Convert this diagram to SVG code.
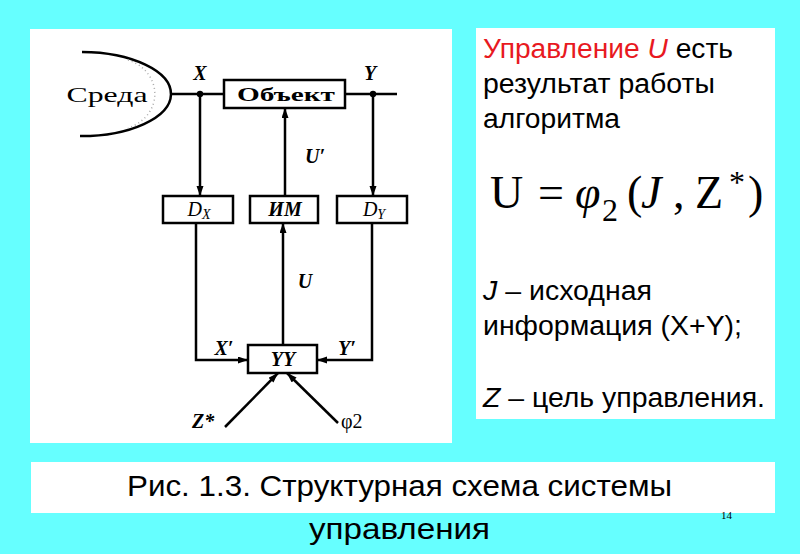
<svg xmlns="http://www.w3.org/2000/svg" width="800" height="554" viewBox="0 0 800 554">
<defs>
<marker id="ah" markerUnits="userSpaceOnUse" markerWidth="11" markerHeight="8" refX="10" refY="3.5" orient="auto">
<path d="M0,0 L10,3.5 L0,7 Z" fill="#000"/>
</marker>
<style>
.box{fill:#fff;stroke:#000;stroke-width:2.5}
.ln{fill:none;stroke:#000;stroke-width:2.5}
.arr{fill:none;stroke:#000;stroke-width:2.5;marker-end:url(#ah)}
.sf{font-family:"Liberation Serif","DejaVu Serif",serif;fill:#000}
.lab{font-family:"Liberation Serif","DejaVu Serif",serif;font-style:italic;font-weight:bold;fill:#000}
.ss{font-family:"Liberation Sans","Noto Sans",sans-serif;fill:#000}
.red{fill:#e8191f}
</style>
</defs>
<rect x="0" y="0" width="800" height="554" fill="#66ffff"/>
<rect x="30" y="29" width="422" height="414" fill="#fff"/>
<rect x="476" y="28" width="299" height="391" fill="#fff"/>
<rect x="31" y="462" width="744" height="51" fill="#fff"/>

<g id="connectors">
<path class="ln" d="M172 94 H224"/>
<path class="ln" d="M345 94 H397"/>
<circle cx="200" cy="94" r="3.2" fill="#000"/>
<circle cx="373" cy="94" r="3.2" fill="#000"/>
<path class="arr" d="M200 94 V196"/>
<path class="arr" d="M373 94 V196"/>
<path class="arr" d="M285 196 V108"/>
<path class="arr" d="M283 345 V223"/>
<path class="arr" d="M196 223 V360 H248"/>
<path class="arr" d="M372 223 V360 H317"/>
<path class="arr" d="M225 427 L278 373"/>
<path class="arr" d="M338 423 L287 373"/>
<text class="lab" x="200" y="80" font-size="20" text-anchor="middle">X</text>
<text class="lab" x="370" y="80" font-size="20" text-anchor="middle">Y</text>
<text class="lab" x="315" y="163" font-size="20" text-anchor="middle">U′</text>
<text class="lab" x="305" y="288" font-size="20" text-anchor="middle">U</text>
<text class="lab" x="224" y="355" font-size="20" text-anchor="middle">X′</text>
<text class="lab" x="347" y="355" font-size="20" text-anchor="middle">Y′</text>
<text class="lab" x="192" y="428" font-size="20">Z*</text>
<text class="sf" x="341" y="428" font-size="20">φ2</text>
</g>

<g id="sreda">
<path d="M82 52 A90 42 0 0 1 80 136" fill="none" stroke="#000" stroke-width="2.5"/>
<path d="M128 60 A40 36 0 0 1 128 128" fill="none" stroke="#aaa" stroke-width="1.5" stroke-dasharray="1 3"/>
<text class="sf" x="107" y="102" font-size="22" text-anchor="middle" textLength="81" lengthAdjust="spacingAndGlyphs">Среда</text>
</g>

<g id="obekt">
<rect class="box" x="224" y="80" width="121" height="28"/>
<text class="sf" x="286" y="101" font-size="19" font-weight="bold" text-anchor="middle" textLength="98" lengthAdjust="spacingAndGlyphs">Объект</text>
</g>

<g id="dx">
<rect class="box" x="163" y="196" width="70" height="27"/>
<text class="sf" x="199" y="216" font-size="20" font-style="italic" text-anchor="middle">D<tspan font-size="14" dy="3">X</tspan></text>
</g>

<g id="im">
<rect class="box" x="250" y="196" width="68" height="27"/>
<text class="lab" x="285" y="216" font-size="20" text-anchor="middle">ИМ</text>
</g>

<g id="dy">
<rect class="box" x="337" y="196" width="70" height="27"/>
<text class="sf" x="374" y="216" font-size="20" font-style="italic" text-anchor="middle">D<tspan font-size="14" dy="3">Y</tspan></text>
</g>

<g id="yy">
<rect class="box" x="248" y="345" width="69" height="28"/>
<text class="lab" x="283" y="366" font-size="20" text-anchor="middle">YY</text>
</g>

<g id="text-right">
<text class="ss" x="483" y="58" font-size="27" textLength="250" lengthAdjust="spacingAndGlyphs"><tspan class="red">Управление </tspan><tspan class="red" font-style="italic">U</tspan> есть</text>
<text class="ss" x="483" y="93" font-size="27" textLength="232" lengthAdjust="spacingAndGlyphs">результат работы</text>
<text class="ss" x="483" y="128" font-size="27" textLength="137" lengthAdjust="spacingAndGlyphs">алгоритма</text>
<g id="formula" class="sf">
<text x="490" y="208" font-size="46">U</text>
<text x="538" y="208" font-size="46">=</text>
<text x="575" y="208" font-size="46" font-style="italic">φ</text>
<text x="602" y="221" font-size="32">2</text>
<text x="627" y="208" font-size="46">(</text>
<text x="641" y="208" font-size="46" font-style="italic">J</text>
<text x="673" y="208" font-size="46">,</text>
<text x="695" y="208" font-size="46">Z</text>
<text x="729" y="193" font-size="32">*</text>
<text x="748" y="208" font-size="46">)</text>
</g>
<text class="ss" x="483" y="300" font-size="27" textLength="169" lengthAdjust="spacingAndGlyphs"><tspan font-style="italic">J</tspan> – исходная</text>
<text class="ss" x="483" y="335" font-size="27" textLength="259" lengthAdjust="spacingAndGlyphs">информация (X+Y);</text>
<text class="ss" x="483" y="407" font-size="27" textLength="282" lengthAdjust="spacingAndGlyphs"><tspan font-style="italic">Z</tspan> – цель управления.</text>
</g>

<g id="caption">
<text class="ss" x="127" y="496" font-size="29" textLength="545" lengthAdjust="spacingAndGlyphs">Рис. 1.3. Структурная схема системы</text>
<text class="ss" x="309" y="539" font-size="29" textLength="181" lengthAdjust="spacingAndGlyphs">управления</text>
<text class="sf" x="721" y="519" font-size="11" fill="#555">14</text>
</g>
</svg>
